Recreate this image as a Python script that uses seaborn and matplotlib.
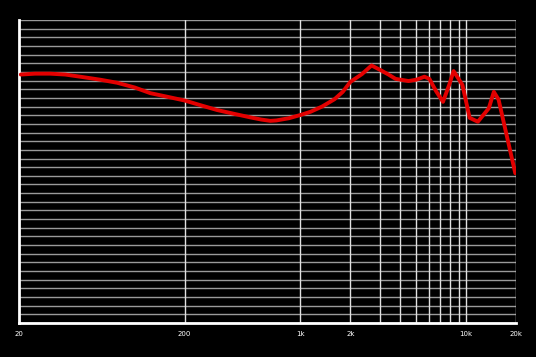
import matplotlib
matplotlib.use("Agg")
import matplotlib.pyplot as plt
import seaborn as sns
import pandas as pd

freq = [20.5, 25, 30.8, 38, 48.8, 62, 78.3, 100, 124, 160, 200, 250, 314, 400, 499, 580, 658, 716,
        850, 1010, 1150, 1350, 1605, 1800, 2000, 2350, 2686, 3050, 3400, 3750, 4490, 5000, 5600, 6000,
        6600, 7250, 7900, 8400, 9500, 10500, 11770, 13700, 14700, 15700, 19800]
spl = [87.4, 87.6, 87.6, 87.4, 86.8, 86.2, 85.5, 84.4, 83.1, 82.2, 81.4, 80.3, 79.2, 78.3, 77.5, 77.0, 76.7, 76.8,
       77.3, 78.1, 78.8, 80.0, 81.7, 83.4, 85.7, 87.5, 89.5, 88.4, 87.4, 86.4, 85.9, 86.2, 86.9, 86.4,
       83.5, 81.1, 85.0, 88.2, 85.0, 77.4, 76.5, 79.6, 83.4, 81.6, 64.6]

major_ticks = [20, 200, 1000, 2000, 10000, 20000]
major_labels = ["20", "200", "1k", "2k", "10k", "20k"]
minor_ticks = [3000, 4000, 5000, 6000, 7000, 8000, 9000]

df = pd.DataFrame({"freq": freq, "spl": spl})

sns.set_style("dark")
fig = plt.figure(figsize=(5.36, 3.57), dpi=100, facecolor="black")
ax = fig.add_axes([19/536, 34/357, 497/536, 303/357])
ax.set_facecolor("black")
ax.set_xscale("log")

for y in range(30, 101, 2):
    ax.axhline(y, color="#9a9a9a", lw=1.0, zorder=1)
for x in major_ticks[1:] + minor_ticks:
    ax.axvline(x, color="#e0e0e0", lw=1.0, zorder=1.5)

sns.lineplot(data=df, x="freq", y="spl", sort=False, color="#e30000", lw=2.8, ax=ax, zorder=3)

ax.set_xlim(20, 20000)
ax.set_ylim(30, 100)
ax.set_xticks(major_ticks)
ax.set_xticklabels(major_labels)
ax.set_xticks([], minor=True)
ax.set_yticks([])
ax.tick_params(axis="x", colors="white", labelsize=5, length=0, pad=6)
ax.set_xlabel("")
ax.set_ylabel("")
for s in ["top", "right"]:
    ax.spines[s].set_visible(False)
for s in ["left", "bottom"]:
    ax.spines[s].set_visible(True)
    ax.spines[s].set_color("white")
    ax.spines[s].set_linewidth(2)
ax.grid(False)

fig.savefig("out.png", dpi=100, facecolor="black")
